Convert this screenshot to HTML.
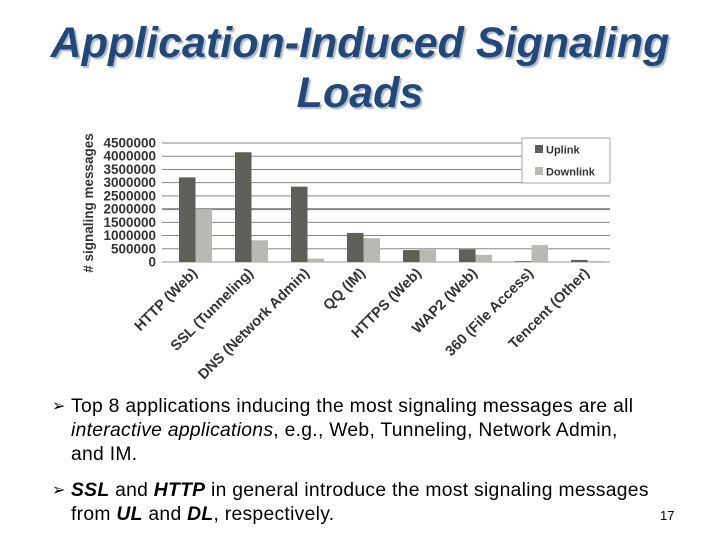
<!DOCTYPE html>
<html><head><meta charset="utf-8"><style>
body{margin:0;width:720px;height:540px;background:#fff;overflow:hidden;font-family:"Liberation Sans",sans-serif;position:relative}
#title{position:absolute;left:0;top:18px;width:720px;text-align:center;font-size:43px;font-weight:bold;font-style:italic;color:#1f497d;line-height:50px;text-shadow:2px 2px 1px #bbb}
.b{position:absolute;left:52px;font-size:19.3px;letter-spacing:0.3px;color:#000;line-height:24px;white-space:nowrap}
.b span.m{position:absolute;left:0;top:0;font-size:16px}
.b div{margin-left:19px}
#pg{position:absolute;left:660px;top:508px;font-size:13px}
</style></head><body>
<div id="title">Application-Induced Signaling<br>Loads</div>
<svg id="chart" width="720" height="540" style="position:absolute;left:0;top:0"></svg>
<div class="b" style="top:395px"><span class="m">➢</span><div>Top 8 applications inducing the most signaling messages are all<br><i>interactive applications</i>, e.g., Web, Tunneling, Network Admin,<br>and IM.</div></div>
<div class="b" style="top:479px"><span class="m">➢</span><div><b><i>SSL</i></b> and <b><i>HTTP</i></b> in general introduce the most signaling messages<br>from <b><i>UL</i></b> and <b><i>DL</i></b>, respectively.</div></div>
<div id="pg">17</div>
<script>
const categories=["HTTP (Web)","SSL (Tunneling)","DNS (Network Admin)","QQ (IM)","HTTPS (Web)","WAP2 (Web)","360 (File Access)","Tencent (Other)"];
const uplink=[3200000,4150000,2850000,1100000,450000,480000,30000,80000];
const downlink=[2000000,820000,130000,900000,470000,270000,640000,40000];
const yTicks=[0,500000,1000000,1500000,2000000,2500000,3000000,3500000,4000000,4500000];
const svg=document.getElementById('chart');const NS='http://www.w3.org/2000/svg';
const X0=162,X1=610,Y0=262,Y1=143,YMAX=4500000;
const cw=(X1-X0)/categories.length;
const y=v=>Y0-(v/YMAX)*(Y0-Y1);
function mk(t,a,p){const e=document.createElementNS(NS,t);for(const k in a)e.setAttribute(k,a[k]);(p||svg).appendChild(e);return e;}
yTicks.forEach(v=>{
const l=mk('line',{x1:X0,x2:X1,y1:y(v),y2:y(v),stroke:v===0?'#999':'#888','stroke-width':v===2000000?2:1});


const t=mk('text',{x:156,y:y(v)+4.5,'text-anchor':'end','font-size':'13.5','font-weight':'bold','fill':'#333','font-family':'Liberation Sans'});t.textContent=v;


});
const yt=mk('text',{x:0,y:0,transform:'translate(93,203) rotate(-90)','text-anchor':'middle','font-size':'13.5','font-weight':'bold','fill':'#333'});yt.textContent='# signaling messages';


categories.forEach((c,i)=>{
const bx=X0+i*cw+17;
const r1=mk('rect',{x:bx,y:y(uplink[i]),width:16.5,height:Y0-y(uplink[i]),fill:'#5f5f58'});


const r2=mk('rect',{x:bx+16.5,y:y(downlink[i]),width:16.5,height:Y0-y(downlink[i]),fill:'#b9b8b2'});


const cx=X0+i*cw+cw/2+8;
const t=mk('text',{x:0,y:0,transform:`translate(${cx},274) rotate(-45)`,'text-anchor':'end','font-size':'14.5','font-weight':'bold','fill':'#333'});t.textContent=c;


});
const lg=mk('g',{});
mk('rect',{x:522,y:138,width:88,height:45,fill:'#fff',stroke:'#aaa'},lg);
[['Uplink','#5f5f58',150],['Downlink','#b9b8b2',172]].forEach(([n,col,yy])=>{
const r=mk('rect',{x:535,y:yy-5,width:8,height:8,fill:col},lg);


const t=mk('text',{x:546,y:yy+3.5,'font-size':'11','font-weight':'bold','fill':'#333'},lg);t.textContent=n;


});
</script>
</body></html>
